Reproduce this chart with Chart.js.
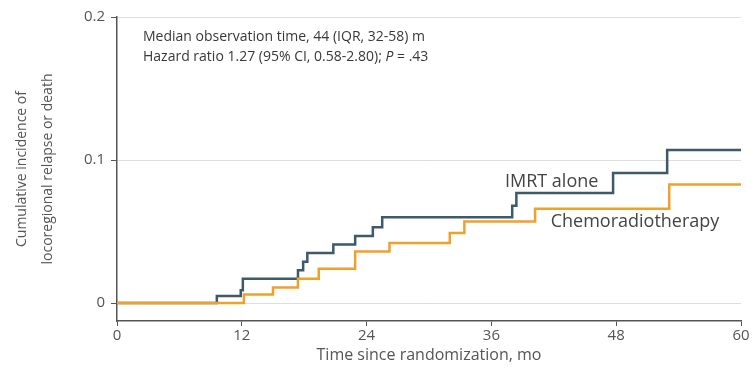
<!DOCTYPE html>
<html>
<head>
<meta charset="utf-8">
<script src="https://cdn.jsdelivr.net/npm/chart.js@4.4.1/dist/chart.umd.min.js"></script>
<style>
    html, body { margin: 0; padding: 0; background: #fff; }
    #box { width: 755px; height: 370px; }
</style>
</head>
<body>
<div id="box"><canvas id="grafico" width="755" height="370"></canvas></div>
<script>
// tempos (meses) em que a curva sobe e incidência acumulada depois do degrau
const imrtTempos = [0, 9.6, 11.9, 12.1, 17.4, 17.9, 18.3, 20.8, 22.9, 24.6, 25.5, 38.0, 38.4, 47.7, 52.9, 60];
const imrtRisco = [0, 0.005, 0.009, 0.017, 0.023, 0.029, 0.035, 0.041, 0.047, 0.053, 0.060, 0.068, 0.077, 0.091, 0.107, 0.107];

const quimioTempos = [0, 12.2, 15.0, 17.4, 19.4, 22.9, 26.2, 32.0, 33.4, 40.2, 53.1, 60];
const quimioRisco = [0, 0.006, 0.011, 0.017, 0.024, 0.036, 0.042, 0.049, 0.057, 0.066, 0.083, 0.083];

const ticksX = [0, 12, 24, 36, 48, 60];
const ticksY = [0, 0.1, 0.2];

const corImrt = '#3c5a68';
const corQuimio = '#f0a12c';
const fonte = '"Open Sans", "Noto Sans", sans-serif';

function montarPontos(tempos, valores) {
    let pontos = [];
    for (let i = 0; i < tempos.length; i++) {
        pontos.push({ x: tempos[i], y: valores[i] });
    }
    return pontos;
}

// textos dentro da área do gráfico
const textosPlugin = {
    id: 'textos',
    afterDatasetsDraw(chart) {
        const ctx = chart.ctx;
        const x = chart.scales.x;
        const y = chart.scales.y;
        ctx.save();
        ctx.textBaseline = 'middle';
        ctx.font = '14px ' + fonte;
        ctx.fillStyle = '#383838';
        ctx.fillText('Median observation time, 44 (IQR, 32-58) m', 143, 37);

        let t1 = 'Hazard ratio 1.27 (95% CI, 0.58-2.80); ';
        ctx.fillText(t1, 143, 57);
        let px = 143 + ctx.measureText(t1).width;
        ctx.font = 'italic 14px ' + fonte;
        ctx.fillText('P', px, 57);
        px += ctx.measureText('P').width;
        ctx.font = '14px ' + fonte;
        ctx.fillText(' = .43', px, 57);

        ctx.font = '18px ' + fonte;
        ctx.fillStyle = '#444';
        ctx.fillText('IMRT alone', x.getPixelForValue(37.3), y.getPixelForValue(0.085));
        ctx.fillText('Chemoradiotherapy', x.getPixelForValue(41.7), y.getPixelForValue(0.057));
        ctx.restore();
    }
};

const config = {
    type: 'line',
    data: {
        datasets: [{
            label: 'Chemoradiotherapy',
            data: montarPontos(quimioTempos, quimioRisco),
            borderColor: corQuimio,
            borderWidth: 2.5,
            pointRadius: 0,
            stepped: 'before',
            fill: false
        }, {
            label: 'IMRT alone',
            data: montarPontos(imrtTempos, imrtRisco),
            borderColor: corImrt,
            borderWidth: 2.5,
            pointRadius: 0,
            stepped: 'before',
            fill: false
        }]
    },
    options: {
        responsive: false,
        animation: false,
        layout: {
            padding: { left: 9, right: 14, top: 17, bottom: 0 }
        },
        scales: {
            x: {
                type: 'linear',
                min: 0,
                max: 60,
                afterBuildTicks: (scale) => { scale.ticks = ticksX.map(v => ({ value: v })); },
                afterFit: (scale) => { scale.height = 49; },
                border: { color: '#555', width: 1.5 },
                grid: {
                    drawOnChartArea: false,
                    color: '#555',
                    tickLength: 5
                },
                ticks: {
                    color: '#555',
                    font: { family: fonte, size: 15 },
                    padding: 1
                },
                title: {
                    display: true,
                    text: 'Time since randomization, mo',
                    color: '#555',
                    font: { family: fonte, size: 16 },
                    padding: { top: 0, bottom: 5 }
                }
            },
            y: {
                type: 'linear',
                min: -0.0125,
                max: 0.2,
                afterBuildTicks: (scale) => { scale.ticks = ticksY.map(v => ({ value: v })); },
                afterFit: (scale) => { scale.width = 108; },
                border: { color: '#555', width: 1.5 },
                grid: {
                    color: '#dedede',
                    tickColor: '#555',
                    tickLength: 6
                },
                ticks: {
                    color: '#555',
                    font: { family: fonte, size: 15 },
                    padding: 6,
                    callback: (v) => v === 0 ? '0' : v.toFixed(1)
                },
                title: {
                    display: true,
                    text: ['Cumulative incidence of', 'locoregional relapse or death'],
                    color: '#555',
                    font: { family: fonte, size: 14, lineHeight: 1.85 },
                    padding: { top: 0, bottom: 0 }
                }
            }
        },
        plugins: {
            legend: { display: false },
            tooltip: { enabled: false }
        }
    },
    plugins: [textosPlugin]
};

let grafico = new Chart(document.getElementById('grafico'), config);
</script>
</body>
</html>
